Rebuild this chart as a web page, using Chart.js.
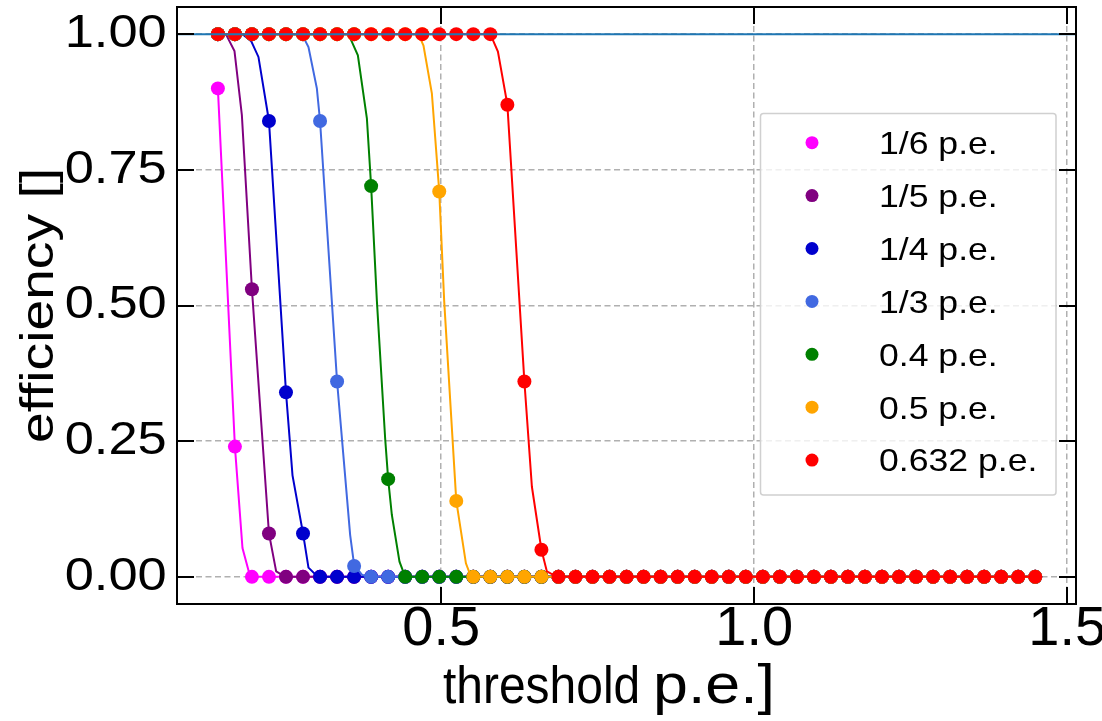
<!DOCTYPE html>
<html>
<head>
<meta charset="utf-8">
<title>Trigger efficiency vs threshold</title>
<script src="https://cdn.jsdelivr.net/npm/chart.js@4.4.1/dist/chart.umd.min.js"></script>
<style>
  html, body { margin: 0; padding: 0; background: #ffffff; }
  #wrap { width: 1102px; height: 721px; }
  canvas { display: block; }
</style>
</head>
<body>
<div id="wrap"><canvas id="chart" width="1102" height="721"></canvas></div>
<script>
// ---- data -------------------------------------------------------------
// threshold scan points [p.e.]
const thresholds = [
  0.1433, 0.1705, 0.1977, 0.2249, 0.2521, 0.2793, 0.3065, 0.3337, 0.3609, 0.3881,
  0.4153, 0.4425, 0.4697, 0.4969, 0.5241, 0.5513, 0.5785, 0.6057, 0.6329, 0.6601,
  0.6873, 0.7145, 0.7417, 0.7689, 0.7961, 0.8233, 0.8505, 0.8777, 0.9049, 0.9321,
  0.9593, 0.9865, 1.0137, 1.0409, 1.0681, 1.0953, 1.1225, 1.1497, 1.1769, 1.2041,
  1.2313, 1.2585, 1.2857, 1.3129, 1.3401, 1.3673, 1.3945, 1.4217, 1.4489
];

const seriesLabels = ['1/6 p.e.', '1/5 p.e.', '1/4 p.e.', '1/3 p.e.', '0.4 p.e.', '0.5 p.e.', '0.632 p.e.'];
const seriesColors = ['#ff00ff', '#800080', '#0000cd', '#4169e1', '#008000', '#ffa500', '#ff0000'];

// measured efficiency at each threshold
const eff_1_6 = [
  0.90, 0.24, 0, 0, 0, 0, 0, 0, 0, 0,
  0, 0, 0, 0, 0, 0, 0, 0, 0, 0,
  0, 0, 0, 0, 0, 0, 0, 0, 0, 0,
  0, 0, 0, 0, 0, 0, 0, 0, 0, 0,
  0, 0, 0, 0, 0, 0, 0, 0, 0
];
const eff_1_5 = [
  1, 1, 0.53, 0.08, 0, 0, 0, 0, 0, 0,
  0, 0, 0, 0, 0, 0, 0, 0, 0, 0,
  0, 0, 0, 0, 0, 0, 0, 0, 0, 0,
  0, 0, 0, 0, 0, 0, 0, 0, 0, 0,
  0, 0, 0, 0, 0, 0, 0, 0, 0
];
const eff_1_4 = [
  1, 1, 1, 0.84, 0.34, 0.08, 0, 0, 0, 0,
  0, 0, 0, 0, 0, 0, 0, 0, 0, 0,
  0, 0, 0, 0, 0, 0, 0, 0, 0, 0,
  0, 0, 0, 0, 0, 0, 0, 0, 0, 0,
  0, 0, 0, 0, 0, 0, 0, 0, 0
];
const eff_1_3 = [
  1, 1, 1, 1, 1, 1, 0.84, 0.36, 0.02, 0,
  0, 0, 0, 0, 0, 0, 0, 0, 0, 0,
  0, 0, 0, 0, 0, 0, 0, 0, 0, 0,
  0, 0, 0, 0, 0, 0, 0, 0, 0, 0,
  0, 0, 0, 0, 0, 0, 0, 0, 0
];
const eff_0_4 = [
  1, 1, 1, 1, 1, 1, 1, 1, 1, 0.72,
  0.18, 0, 0, 0, 0, 0, 0, 0, 0, 0,
  0, 0, 0, 0, 0, 0, 0, 0, 0, 0,
  0, 0, 0, 0, 0, 0, 0, 0, 0, 0,
  0, 0, 0, 0, 0, 0, 0, 0, 0
];
const eff_0_5 = [
  1, 1, 1, 1, 1, 1, 1, 1, 1, 1,
  1, 1, 1, 0.71, 0.14, 0, 0, 0, 0, 0,
  0, 0, 0, 0, 0, 0, 0, 0, 0, 0,
  0, 0, 0, 0, 0, 0, 0, 0, 0, 0,
  0, 0, 0, 0, 0, 0, 0, 0, 0
];
const eff_0_632 = [
  1, 1, 1, 1, 1, 1, 1, 1, 1, 1,
  1, 1, 1, 1, 1, 1, 1, 0.87, 0.36, 0.05,
  0, 0, 0, 0, 0, 0, 0, 0, 0, 0,
  0, 0, 0, 0, 0, 0, 0, 0, 0, 0,
  0, 0, 0, 0, 0, 0, 0, 0, 0
];
const efficiencies = [eff_1_6, eff_1_5, eff_1_4, eff_1_3, eff_0_4, eff_0_5, eff_0_632];

// finely sampled efficiency curves (threshold, efficiency)
const curve_1_6_x = [0.1433, 0.1705, 0.1826, 0.1949, 1.4489];
const curve_1_6_y = [0.90, 0.24, 0.053, 0, 0];
const curve_1_5_x = [0.1433, 0.1561, 0.1698, 0.1816, 0.1977, 0.2249, 0.2364, 0.2508, 1.4489];
const curve_1_5_y = [1, 1, 0.969, 0.851, 0.53, 0.08, 0.010, 0, 0];
const curve_1_4_x = [0.1433, 0.1826, 0.1965, 0.2081, 0.2249, 0.2521, 0.2625, 0.2793, 0.2880, 0.2987, 0.3067, 1.4489];
const curve_1_4_y = [1, 1, 0.987, 0.958, 0.84, 0.34, 0.187, 0.08, 0.017, 0.005, 0, 0];
const curve_1_3_x = [0.1433, 0.2775, 0.2880, 0.3014, 0.3065, 0.3337, 0.3546, 0.3609, 0.3733, 0.3834, 1.4489];
const curve_1_3_y = [1, 1, 0.976, 0.900, 0.84, 0.36, 0.077, 0.022, 0.004, 0, 0];
const curve_0_4_x = [0.1433, 0.3519, 0.3669, 0.3813, 0.3881, 0.3973, 0.4105, 0.4153, 0.4212, 0.4334, 0.4425, 1.4489];
const curve_0_4_y = [1, 1, 0.961, 0.845, 0.72, 0.508, 0.255, 0.18, 0.114, 0.028, 0, 0];
const curve_0_5_x = [0.1433, 0.4637, 0.4717, 0.4851, 0.4969, 0.5048, 0.5241, 0.5395, 0.5463, 0.5511, 1.4489];
const curve_0_5_y = [1, 1, 0.979, 0.891, 0.71, 0.508, 0.14, 0.025, 0.004, 0, 0];
const curve_0_632_x = [0.1433, 0.5785, 0.5906, 0.6057, 0.6329, 0.6449, 0.6601, 0.6688, 0.6848, 1.4489];
const curve_0_632_y = [1, 1, 0.968, 0.87, 0.36, 0.166, 0.05, 0.01, 0, 0];
const curvesX = [curve_1_6_x, curve_1_5_x, curve_1_4_x, curve_1_3_x, curve_0_4_x, curve_0_5_x, curve_0_632_x];
const curvesY = [curve_1_6_y, curve_1_5_y, curve_1_4_y, curve_1_3_y, curve_0_4_y, curve_0_5_y, curve_0_632_y];

// full-efficiency reference level
const referenceLevel = 1.0;

// axis ranges and tick steps
const X_MIN = 0.078, X_MAX = 1.514, X_STEP = 0.5;
const Y_MIN = -0.05, Y_MAX = 1.05, Y_STEP = 0.25;

const X_TITLE_PARTS = ['threshold', 'p.e.]'];
const Y_TITLE = 'efficiency []';

// ---- styling ----------------------------------------------------------
const FONT = '"Liberation Sans", Arial, Helvetica, sans-serif';
const NARROW_FONT = '"Liberation Sans Narrow", "Liberation Sans", Arial, sans-serif';
const Y_LABEL_STRETCH = 1.14;
const TICK_LEN = 17;
const MARKER_R = 7;

// ---- datasets ---------------------------------------------------------
const layers = [];
seriesLabels.forEach((label, s) => {
  layers.push({
    label: label + ' curve',
    data: curvesX[s].map((x, i) => ({ x, y: curvesY[s][i] })),
    showLine: true,
    borderColor: seriesColors[s],
    backgroundColor: seriesColors[s],
    borderWidth: 2,
    pointRadius: 0,
    tension: 0,
    fill: false
  });
  layers.push({
    label: label,
    legendEntry: true,
    data: thresholds.map((x, i) => ({ x, y: efficiencies[s][i] })),
    showLine: false,
    backgroundColor: seriesColors[s],
    pointBackgroundColor: seriesColors[s],
    pointBorderWidth: 0,
    pointRadius: MARKER_R,
    pointHoverRadius: MARKER_R
  });
});
layers.push({
  label: 'reference',
  data: [{ x: X_MIN, y: referenceLevel }, { x: X_MAX, y: referenceLevel }],
  showLine: true,
  borderColor: '#1f77b4',
  borderWidth: 2,
  pointRadius: 0
});
// later entries are painted on top
layers.forEach((d, i) => { d.order = layers.length - i; });

// ---- plugins ----------------------------------------------------------
// widen the y tick labels about the axis edge
const stretchYLabels = {
  id: 'stretchYLabels',
  beforeDraw(chart) {
    const s = chart.scales.y;
    if (s.__stretched) return;
    const base = s.drawLabels;
    s.drawLabels = function (area) {
      const ctx = this.ctx;
      const xr = this.right;
      ctx.save();
      ctx.translate(xr, 0);
      ctx.scale(Y_LABEL_STRETCH, 1);
      ctx.translate(-xr, 0);
      base.call(this, area);
      ctx.restore();
    };
    s.__stretched = true;
  }
};

// box frame with inward ticks on all four sides
const frameTicks = {
  id: 'frameTicks',
  afterDatasetsDraw(chart) {
    const { ctx, chartArea: a, scales: { x, y } } = chart;
    ctx.save();
    ctx.strokeStyle = '#000';
    ctx.lineWidth = 2;
    ctx.beginPath();
    for (const t of x.ticks) {
      const px = Math.round(x.getPixelForValue(t.value));
      ctx.moveTo(px, a.bottom); ctx.lineTo(px, a.bottom - TICK_LEN);
      ctx.moveTo(px, a.top); ctx.lineTo(px, a.top + TICK_LEN);
    }
    for (const t of y.ticks) {
      const py = Math.round(y.getPixelForValue(t.value));
      ctx.moveTo(a.left, py); ctx.lineTo(a.left + TICK_LEN, py);
      ctx.moveTo(a.right, py); ctx.lineTo(a.right - TICK_LEN, py);
    }
    ctx.stroke();
    ctx.strokeRect(a.left, a.top, a.right - a.left, a.bottom - a.top);
    ctx.restore();
  }
};

// axis titles
const axisTitles = {
  id: 'axisTitles',
  afterDraw(chart) {
    const { ctx, chartArea: a } = chart;
    ctx.save();
    ctx.fillStyle = '#000';
    ctx.textBaseline = 'alphabetic';

    ctx.save();
    ctx.translate(53, (a.top + a.bottom) / 2);
    ctx.rotate(-Math.PI / 2);
    ctx.scale(1.2, 1);
    ctx.font = '46px ' + FONT;
    ctx.textAlign = 'center';
    ctx.fillText(Y_TITLE, 0, 0);
    ctx.restore();

    ctx.textAlign = 'left';
    ctx.save();
    ctx.translate(443, 703);
    ctx.scale(0.94, 1);
    ctx.font = '51px ' + FONT;
    ctx.fillText(X_TITLE_PARTS[0], 0, 0);
    ctx.restore();
    ctx.save();
    ctx.translate(653, 703);
    ctx.scale(1.12, 1);
    ctx.font = '56px ' + FONT;
    ctx.fillText(X_TITLE_PARTS[1], 0, 0);
    ctx.restore();
    ctx.restore();
  }
};

// boxed legend inside the plot
const boxLegend = {
  id: 'boxLegend',
  afterDraw(chart) {
    const ctx = chart.ctx;
    const entries = chart.data.datasets.filter(d => d.legendEntry);
    const left = 760.5, top = 113.5, w = 295.5, h = 381.5;
    ctx.save();
    ctx.beginPath();
    if (ctx.roundRect) ctx.roundRect(left, top, w, h, 3); else ctx.rect(left, top, w, h);
    ctx.fillStyle = 'rgba(255,255,255,0.8)';
    ctx.fill();
    ctx.strokeStyle = '#d0d0d0';
    ctx.lineWidth = 1.5;
    ctx.stroke();
    entries.forEach((d, i) => {
      const cy = 142.7 + i * 52.9;
      ctx.beginPath();
      ctx.arc(812, cy, 6.5, 0, Math.PI * 2);
      ctx.fillStyle = d.backgroundColor;
      ctx.fill();
      ctx.save();
      ctx.translate(879, cy + 11.3);
      ctx.scale(1.13, 1);
      ctx.font = '31.5px ' + FONT;
      ctx.fillStyle = '#000';
      ctx.textAlign = 'left';
      ctx.textBaseline = 'alphabetic';
      ctx.fillText(d.label, 0, 0);
      ctx.restore();
    });
    ctx.restore();
  }
};

// ---- chart ------------------------------------------------------------
new Chart(document.getElementById('chart'), {
  type: 'scatter',
  data: { datasets: layers },
  options: {
    responsive: false,
    animation: false,
    devicePixelRatio: 1,
    events: [],
    layout: { padding: { top: 5, right: 26, left: 0, bottom: 0 } },
    plugins: { legend: { display: false }, tooltip: { enabled: false } },
    scales: {
      x: {
        type: 'linear',
        position: 'bottom',
        min: X_MIN,
        max: X_MAX,
        ticks: {
          stepSize: X_STEP,
          includeBounds: false,
          autoSkip: false,
          maxRotation: 0,
          padding: -8,
          color: '#000',
          font: { family: NARROW_FONT, size: 56 },
          callback: v => Number(v).toFixed(1)
        },
        grid: { color: '#b0b0b0', lineWidth: 1.5, drawTicks: false },
        border: { display: false, dash: [6, 3.5] },
        afterFit(s) { s.height = 117; s.paddingLeft = 0; s.paddingRight = 0; }
      },
      y: {
        type: 'linear',
        position: 'left',
        min: Y_MIN,
        max: Y_MAX,
        ticks: {
          stepSize: Y_STEP,
          includeBounds: false,
          autoSkip: false,
          padding: 9,
          color: '#000',
          font: { family: FONT, size: 46 },
          callback: v => Number(v).toFixed(2)
        },
        grid: { color: '#b0b0b0', lineWidth: 1.5, drawTicks: false },
        border: { display: false, dash: [6, 3.5] },
        afterFit(s) { s.width = 177; s.paddingTop = 0; s.paddingBottom = 0; }
      }
    }
  },
  plugins: [stretchYLabels, frameTicks, axisTitles, boxLegend]
});
</script>
</body>
</html>
